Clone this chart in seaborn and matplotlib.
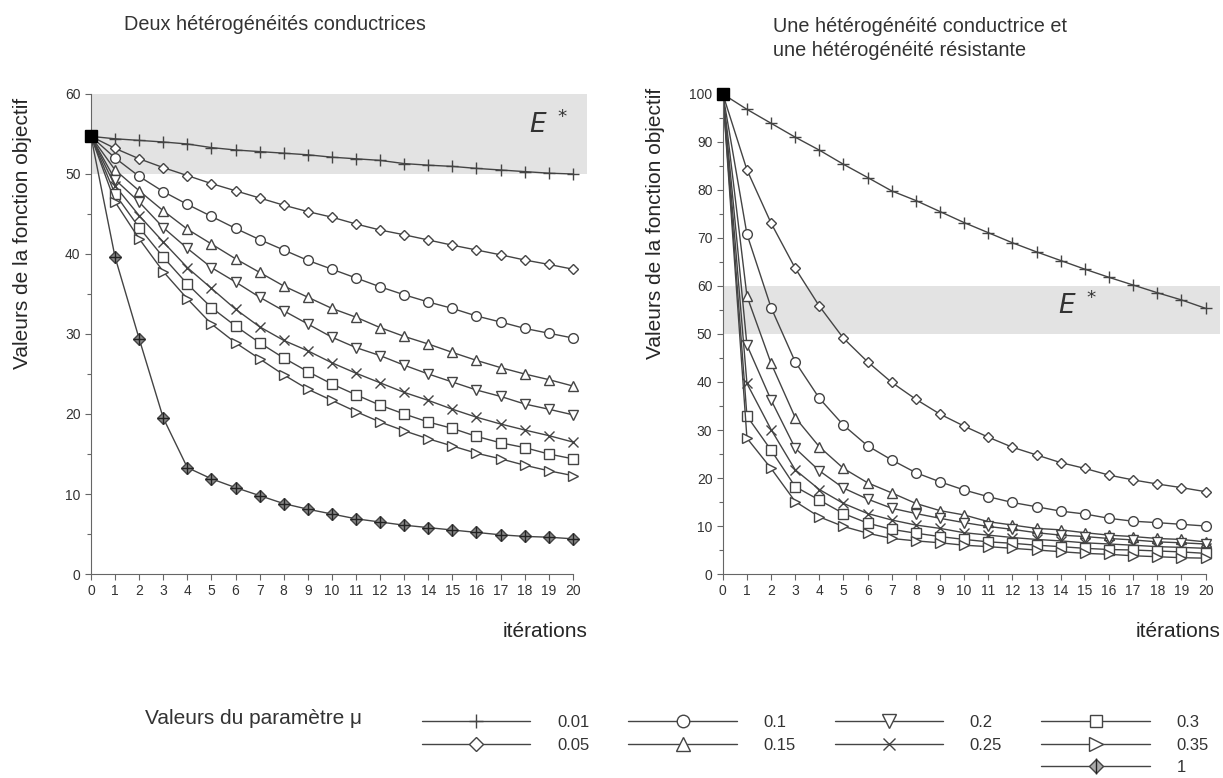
import numpy as np
import pandas as pd
import seaborn as sns
import matplotlib.pyplot as plt
from matplotlib.lines import Line2D
from matplotlib.legend_handler import HandlerTuple
from matplotlib.ticker import MultipleLocator

sns.set_style('ticks')
plt.rcParams['font.family'] = ['Liberation Sans', 'DejaVu Sans']
plt.rcParams['text.color'] = '#333333'
plt.rcParams['xtick.color'] = '#666666'
plt.rcParams['ytick.color'] = '#666666'
plt.rcParams['xtick.labelcolor'] = '#333333'
plt.rcParams['ytick.labelcolor'] = '#333333'

iterations = list(range(21))
mu_valeurs = ['0.01', '0.05', '0.1', '0.15', '0.2', '0.25', '0.3', '0.35', '1']

# Deux hétérogénéités conductrices
g_001 = [54.7, 54.4, 54.2, 54.0, 53.75, 53.3, 53.0, 52.8, 52.6, 52.4, 52.1, 51.9, 51.7, 51.3, 51.1, 50.95, 50.7, 50.5, 50.3, 50.1, 50.0]
g_005 = [54.7, 53.2, 51.9, 50.8, 49.8, 48.8, 47.9, 47.0, 46.1, 45.3, 44.6, 43.75, 43.0, 42.4, 41.75, 41.1, 40.5, 39.9, 39.25, 38.7, 38.1]
g_01 = [54.7, 52.0, 49.7, 47.8, 46.2, 44.7, 43.2, 41.8, 40.5, 39.2, 38.1, 37.0, 35.9, 34.9, 34.0, 33.2, 32.25, 31.5, 30.7, 30.1, 29.5]
g_015 = [54.7, 50.5, 47.9, 45.4, 43.1, 41.25, 39.4, 37.7, 36.0, 34.6, 33.2, 32.1, 30.8, 29.7, 28.75, 27.7, 26.7, 25.8, 25.0, 24.3, 23.5]
g_02 = [54.7, 49.3, 46.5, 43.3, 40.7, 38.3, 36.5, 34.6, 32.9, 31.25, 29.6, 28.3, 27.3, 26.1, 25.0, 24.0, 23.0, 22.2, 21.25, 20.6, 19.9]
g_025 = [54.7, 48.5, 44.8, 41.5, 38.3, 35.7, 33.1, 30.9, 29.2, 27.9, 26.4, 25.1, 23.9, 22.7, 21.7, 20.6, 19.6, 18.75, 18.0, 17.3, 16.5]
g_03 = [54.7, 47.5, 43.3, 39.6, 36.25, 33.3, 31.0, 28.9, 27.0, 25.3, 23.75, 22.4, 21.1, 20.0, 19.0, 18.2, 17.2, 16.4, 15.8, 15.0, 14.4]
g_035 = [54.7, 46.5, 41.9, 37.8, 34.4, 31.25, 28.9, 26.9, 24.9, 23.1, 21.7, 20.3, 19.0, 17.9, 16.9, 16.0, 15.1, 14.4, 13.6, 12.9, 12.3]
g_1 = [54.7, 39.6, 29.4, 19.5, 13.3, 11.9, 10.8, 9.8, 8.8, 8.1, 7.5, 6.9, 6.5, 6.1, 5.8, 5.5, 5.2, 4.9, 4.7, 4.6, 4.4]

# Une hétérogénéité conductrice et une hétérogénéité résistante
d_001 = [100, 96.8, 93.9, 91.0, 88.3, 85.35, 82.6, 79.8, 77.8, 75.5, 73.2, 71.1, 69.0, 67.1, 65.3, 63.5, 61.8, 60.2, 58.6, 57.1, 55.35]
d_005 = [100, 84.2, 73.1, 63.7, 55.8, 49.1, 44.2, 39.9, 36.4, 33.3, 30.8, 28.5, 26.4, 24.8, 23.2, 22.0, 20.6, 19.6, 18.75, 18.0, 17.15]
d_01 = [100, 70.8, 55.5, 44.2, 36.6, 31.0, 26.7, 23.75, 21.1, 19.2, 17.5, 16.1, 14.9, 14.0, 13.1, 12.5, 11.6, 11.0, 10.7, 10.35, 10.0]
d_015 = [100, 57.9, 43.9, 32.6, 26.5, 22.0, 19.0, 16.9, 14.7, 13.2, 12.3, 10.9, 10.2, 9.5, 9.2, 8.6, 8.1, 7.8, 7.4, 7.2, 6.7]
d_02 = [100, 47.7, 36.25, 26.2, 21.5, 17.9, 15.6, 13.7, 12.6, 11.6, 10.7, 9.9, 9.3, 8.6, 8.1, 7.8, 7.4, 7.1, 6.7, 6.5, 6.25]
d_025 = [100, 39.7, 30.1, 21.7, 17.6, 14.7, 12.6, 11.25, 10.2, 9.5, 8.6, 8.1, 7.6, 7.2, 6.9, 6.5, 6.25, 6.0, 5.7, 5.55, 5.35]
d_03 = [100, 32.9, 25.8, 18.2, 15.4, 12.6, 10.6, 9.3, 8.5, 7.8, 7.2, 6.7, 6.4, 6.0, 5.7, 5.35, 5.1, 5.0, 4.8, 4.6, 4.3]
d_035 = [100, 28.3, 22.0, 15.1, 11.9, 9.9, 8.5, 7.4, 6.9, 6.5, 6.0, 5.7, 5.35, 5.0, 4.65, 4.3, 4.1, 3.8, 3.6, 3.4, 3.3]

gauche = dict(zip(mu_valeurs, [g_001, g_005, g_01, g_015, g_02, g_025, g_03, g_035, g_1]))
droite = dict(zip(mu_valeurs[:-1], [d_001, d_005, d_01, d_015, d_02, d_025, d_03, d_035]))

ligne = '#444444'
styles = {
    '0.01': dict(marker='+', ms=8, fc='none'),
    '0.05': dict(marker='D', ms=5.5, fc='white'),
    '0.1': dict(marker='o', ms=7, fc='white'),
    '0.15': dict(marker='^', ms=7.5, fc='white'),
    '0.2': dict(marker='v', ms=7.5, fc='white'),
    '0.25': dict(marker='x', ms=7, fc='none'),
    '0.3': dict(marker='s', ms=6.5, fc='white'),
    '0.35': dict(marker='>', ms=7.5, fc='white'),
    '1': dict(marker='D', ms=6, fc='#888888'),
}


def trace(ax, series, ymax):
    ax.axhspan(50, 60, color='#e3e3e3', zorder=0, lw=0)
    for mu, vals in series.items():
        st = styles[mu]
        sns.lineplot(x=iterations, y=vals, ax=ax, color=ligne, linewidth=1,
                     marker=st['marker'], markersize=st['ms'],
                     markerfacecolor=st['fc'], markeredgecolor=ligne,
                     markeredgewidth=1, markevery=list(range(1, 21)))
        if mu == '1':
            ax.plot(iterations[1:], vals[1:], '+', color='#222222', ms=8, mew=1)
    depart = list(series.values())[0]
    ax.plot(iterations[0], depart[0], 's', color='black', ms=9, zorder=5, clip_on=False)
    ax.set_xlim(0, 20.6)
    ax.set_ylim(0, ymax)
    ax.spines['bottom'].set_bounds(0, 20)
    ax.spines['left'].set_color('#666666')
    ax.spines['bottom'].set_color('#666666')
    sns.despine(ax=ax)
    ax.set_xticks(iterations)
    ax.yaxis.set_major_locator(MultipleLocator(10))
    ax.yaxis.set_minor_locator(MultipleLocator(5))
    ax.tick_params(axis='both', labelsize=10, length=4, width=0.8)
    ax.tick_params(axis='y', which='minor', length=3, width=0.8)
    ax.set_xlabel('itérations', fontsize=15, loc='right')
    ax.xaxis.set_label_coords(1.0, -0.1)
    ax.set_ylabel('Valeurs de la fonction objectif', fontsize=15)


fig = plt.figure(figsize=(12.23, 7.78), dpi=100)
ax1 = fig.add_axes([0.0744, 0.2622, 0.4058, 0.617])
ax2 = fig.add_axes([0.591, 0.2622, 0.4066, 0.617])

trace(ax1, gauche, 60)
trace(ax2, droite, 100)
ax1.yaxis.set_label_coords(-0.118, 0.71)
ax2.yaxis.set_label_coords(-0.117, 0.73)

ax1.text(19.0, 56.3, r'$E^{\ *}$', fontsize=19, ha='center', va='center', color='#333333')
ax2.text(14.7, 56, r'$E^{\ *}$', fontsize=19, ha='center', va='center', color='#333333')

fig.text(275 / 1223, 1 - 25 / 778, 'Deux hétérogénéités conductrices', fontsize=14.3,
         ha='center', va='center')
fig.text(773 / 1223, 1 - 17 / 778, 'Une hétérogénéité conductrice et\nune hétérogénéité résistante',
         fontsize=14.3, ha='left', va='top', linespacing=1.35)

# légende
handles = []
for mu in mu_valeurs:
    st = styles[mu]
    h = Line2D([], [], color=ligne, lw=1, marker=st['marker'], ms=st['ms'] + 2,
               markerfacecolor='white' if st['fc'] != 'none' else 'none',
               markeredgecolor=ligne, mew=1)
    handles.append(h)
st = styles['1']
handles[8] = (Line2D([], [], color=ligne, lw=1, marker='D', ms=st['ms'] + 1,
                     markerfacecolor='#aaaaaa', markeredgecolor=ligne, mew=1),
              Line2D([], [], linestyle='none', marker='|', ms=12, color='#222222', mew=1))
vide = Line2D([], [], linestyle='none')
ordre = [handles[0], handles[1], vide,
         handles[2], handles[3], vide,
         handles[4], handles[5], vide,
         handles[6], handles[7], handles[8]]
labels = ['0.01', '0.05', '', '0.1', '0.15', '', '0.2', '0.25', '', '0.3', '0.35', '1']
fig.legend(ordre, labels, ncol=4, loc='upper left', bbox_to_anchor=(407 / 1223, 1 - 700 / 778),
           frameon=False, fontsize=12, handlelength=6.5, handletextpad=1.6,
           columnspacing=2.35, labelspacing=0.45,
           handler_map={tuple: HandlerTuple(ndivide=1, pad=0)})
fig.text(145 / 1223, 1 - 718 / 778, 'Valeurs du paramètre μ', fontsize=15, ha='left', va='center')

plt.savefig('out.png', dpi=100)
